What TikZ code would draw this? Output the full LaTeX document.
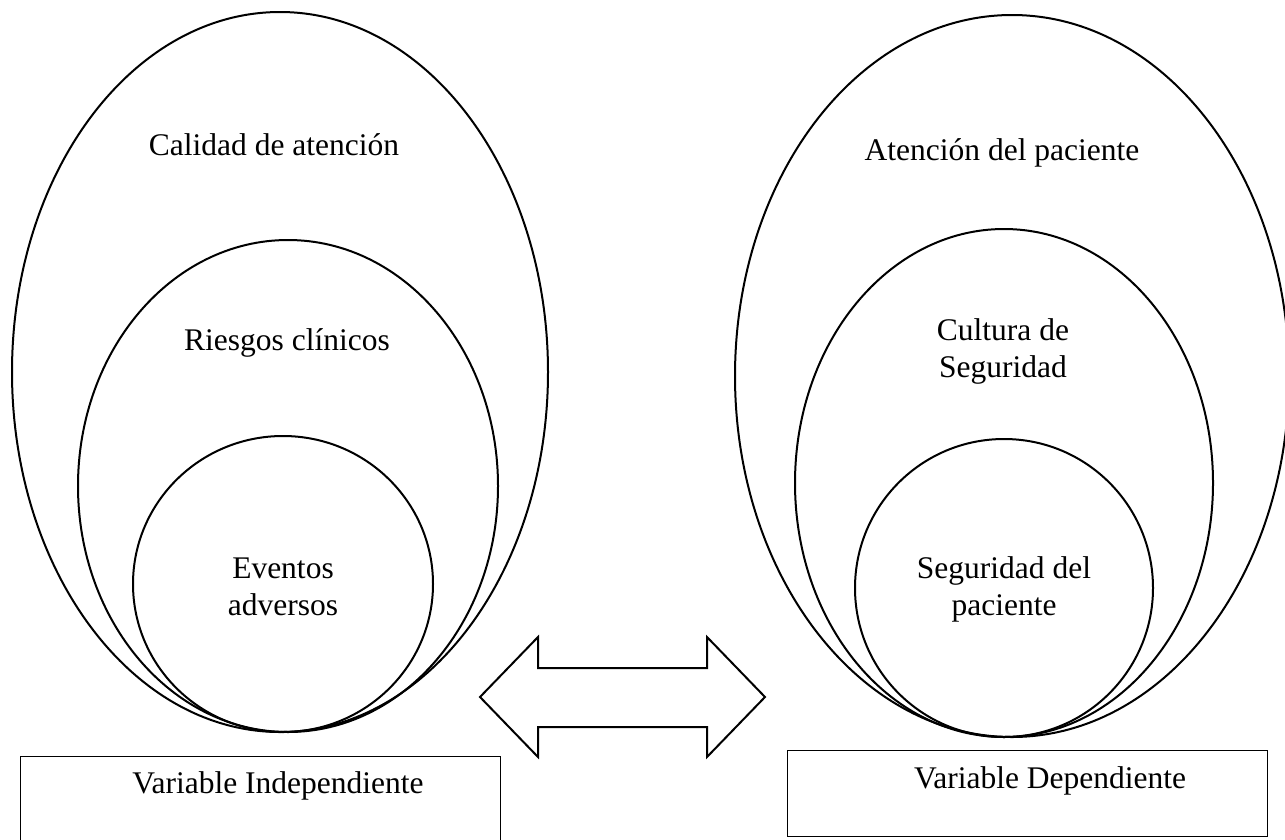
\documentclass[tikz,border=0pt]{standalone}
\usepackage{fontspec}
\setmainfont{Liberation Serif}
\usetikzlibrary{shapes.geometric}

\begin{document}
\begin{tikzpicture}[x=1pt,y=-1pt,
  oval/.style={draw, ellipse, line width=2pt, inner sep=0pt},
  lbl/.style={align=center, anchor=base, inner sep=0pt, font=\fontsize{31.5}{37}\selectfont},
  varbox/.style={draw, line width=1.3pt, inner sep=0pt}]
\useasboundingbox (0,0) rectangle (1285,839);

% left group
\node [oval, minimum width=536pt, minimum height=720pt] (calidad) at (280,372) {};
\node [oval, minimum width=420pt, minimum height=492pt] (riesgos) at (288,486) {};
\node [oval, minimum width=300pt, minimum height=296pt] (eventos) at (283,584) {};

\node [lbl] (t1) at (274,155) {Calidad de atención};
\node [lbl] (t2) at (287,350) {Riesgos clínicos};
\node [lbl] (t3) at (283,615) {Eventos\\adversos};

% right group
\node [oval, minimum width=554pt, minimum height=722pt] (atencion) at (1012,376) {};
\node [oval, minimum width=418pt, minimum height=508pt] (cultura) at (1004,483) {};
\node [oval, minimum width=298pt, minimum height=298pt] (seguridad) at (1004,588) {};

\node [lbl] (t4) at (1002,160) {Atención del paciente};
\node [lbl] (t5) at (1003,377) {Cultura de\\Seguridad};
\node [lbl] (t6) at (1004,615) {Seguridad del\\paciente};

% arrow between the groups
\draw [line width=2pt, line join=miter] (480,697) -- (538,637) -- (538,668) -- (707,668)
  -- (707,637) -- (765,697) -- (707,757) -- (707,727) -- (538,727) -- (538,757) -- cycle;

% variable boxes
\node [varbox, minimum width=480pt, minimum height=90pt, anchor=north west] (vi) at (20,756) {};
\node [varbox, minimum width=480pt, minimum height=86pt, anchor=north west] (vd) at (787,750) {};
\node [lbl] (t7) at (278,793) {Variable Independiente};
\node [lbl] (t8) at (1050,788) {Variable Dependiente};

\end{tikzpicture}
\end{document}
